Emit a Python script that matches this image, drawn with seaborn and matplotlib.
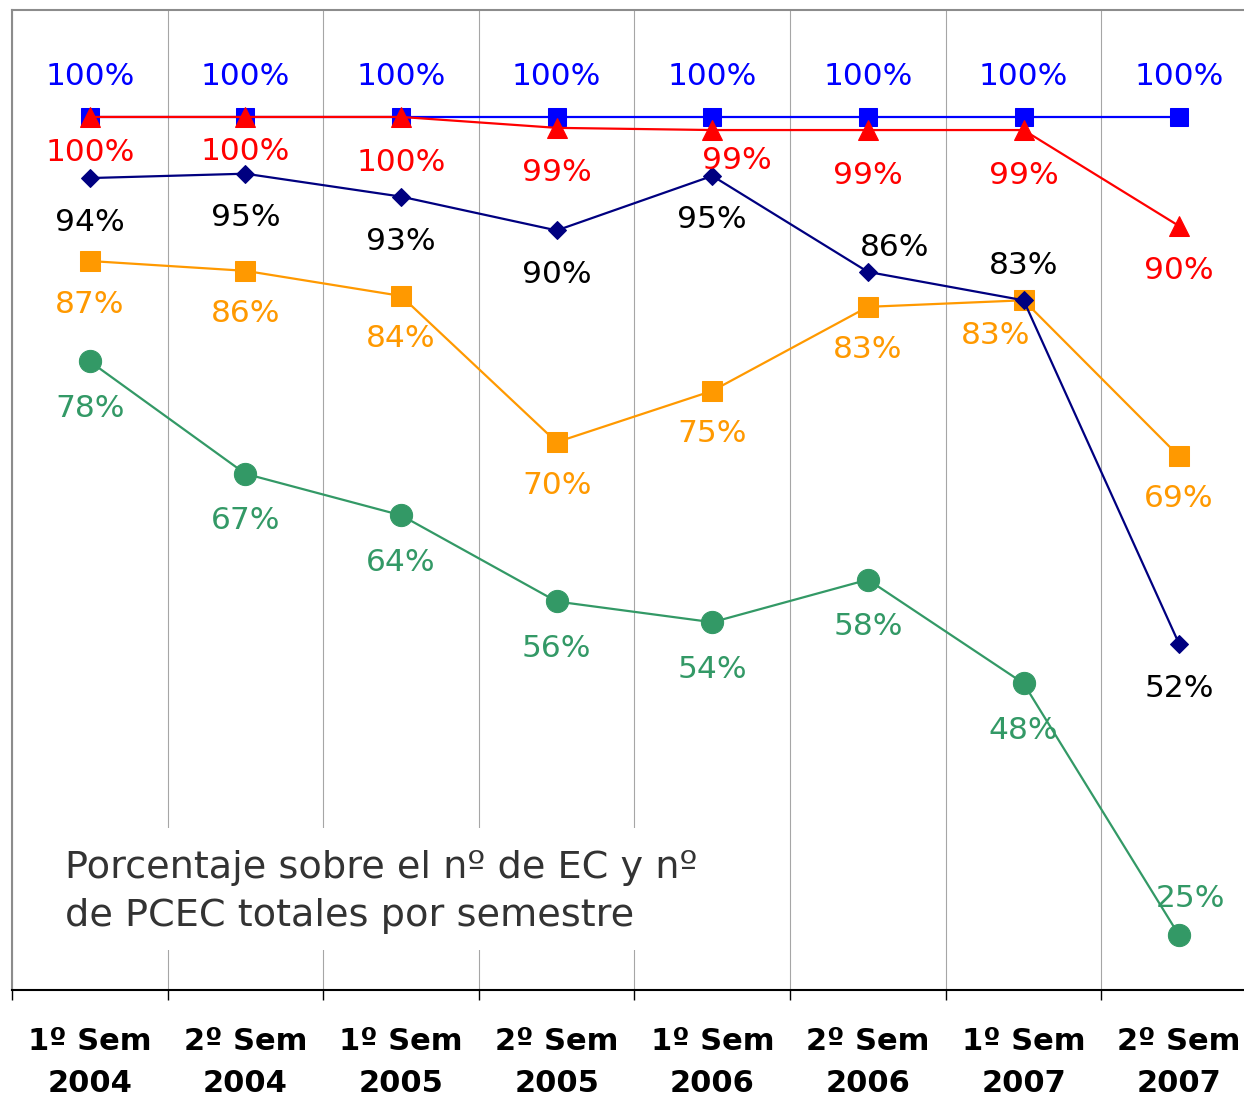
import matplotlib
matplotlib.use("Agg")
import matplotlib.pyplot as plt
from matplotlib import font_manager
from matplotlib.patches import Rectangle
import seaborn as sns

# Data
semesters = ["1º Sem\n2004", "2º Sem\n2004", "1º Sem\n2005", "2º Sem\n2005",
             "1º Sem\n2006", "2º Sem\n2006", "1º Sem\n2007", "2º Sem\n2007"]
blue_vals = [100, 100, 100, 100, 100, 100, 100, 100]
red_vals = [100, 100, 100, 99.0, 98.8, 98.8, 98.8, 90.0]
navy_vals = [94.4, 94.8, 92.7, 89.6, 94.6, 85.8, 83.2, 51.7]
orange_vals = [86.8, 85.9, 83.6, 70.2, 74.9, 82.6, 83.2, 68.9]
green_vals = [77.6, 67.3, 63.5, 55.6, 53.7, 57.6, 48.1, 25.0]
note = "Porcentaje sobre el nº de EC y nº\nde PCEC totales por semestre"

# label offsets in pixels (dx, dy down)
blue_off = [(0, -40)] * 8
red_off = [(0, 36), (0, 35), (0, 46), (0, 45), (25, 30), (0, 45), (0, 45), (0, 44)]
navy_off = [(0, 44), (0, 44), (0, 45), (0, 44), (0, 44), (27, -24), (0, -35), (0, 44)]
orange_off = [(0, 43)] * 6 + [(-28, 35), (0, 42)]
green_off = [(0, 47)] * 7 + [(11, -37)]

sns.set_style("white")
plt.rcParams["font.family"] = ["DejaVu Sans"]

names = {f.name for f in font_manager.fontManager.ttflist}
note_font = "Liberation Sans Narrow" if "Liberation Sans Narrow" in names else "DejaVu Sans"

fig = plt.figure(figsize=(12.44, 10.98), dpi=100)
ax = fig.add_axes([12 / 1244, 1 - 990 / 1098, 1245 / 1244, 980 / 1098])

x = list(range(len(semesters)))
series = [
    (green_vals, "#339966", "o", 16, "#339966", green_off),
    (orange_vals, "#FF9900", "s", 14, "#FF9900", orange_off),
    (navy_vals, "#000080", "D", 9, "black", navy_off),
    (blue_vals, "#0000FF", "s", 13.5, "#0000FF", blue_off),
    (red_vals, "#FF0000", "^", 14, "#FF0000", red_off),
]
for i, (vals, col, mk, ms, tcol, offs) in enumerate(series):
    sns.lineplot(x=x, y=vals, ax=ax, color=col, marker=mk, markersize=ms,
                 markeredgecolor=col, linewidth=1.6, zorder=3 + i)
    for xi, v, (dx, dy) in zip(x, vals, offs):
        ax.annotate(f"{round(v):.0f}%", (xi, v), xytext=(dx * 0.72, -dy * 0.72),
                    textcoords="offset points", ha="center", va="center",
                    fontsize=22.5, color=tcol, zorder=10)

ax.set_xlim(-0.5, 7.5)
ax.set_ylim(20, 109.8)
ax.set_yticks([])
ax.set_xticks([i - 0.5 for i in range(len(semesters) + 1)])
ax.set_xticklabels([])
ax.set_xticks(x, minor=True)
ax.set_xticklabels(semesters, minor=True, fontsize=22, fontweight="bold", color="black")
for lab in ax.get_xticklabels(minor=True):
    lab.set_linespacing(1.55)
ax.tick_params(axis="x", which="major", bottom=True, length=7.5, width=1,
               color="black", direction="out")
ax.tick_params(axis="x", which="minor", bottom=True, length=0, pad=27)
ax.grid(True, axis="x", which="major", color="#a6a6a6", linewidth=0.8)
ax.set_axisbelow(True)

ax.spines["left"].set_color("#8c8c8c")
ax.spines["left"].set_linewidth(1.5)
ax.spines["top"].set_color("#8c8c8c")
ax.spines["top"].set_linewidth(1.5)
ax.spines["bottom"].set_color("black")
ax.spines["bottom"].set_linewidth(1.5)
ax.spines["right"].set_visible(False)

# white box behind the note hides the gridlines
ax.add_patch(Rectangle((8 / 1245, 40 / 980), 700 / 1245, 122 / 980, transform=ax.transAxes,
                       facecolor="white", edgecolor="none", zorder=1))
ax.text(53 / 1245, 98 / 980, note, transform=ax.transAxes, ha="left", va="center",
        fontsize=27.5, color="#333333", family=note_font, linespacing=1.45, zorder=2)

fig.savefig("out.png", dpi=100)
